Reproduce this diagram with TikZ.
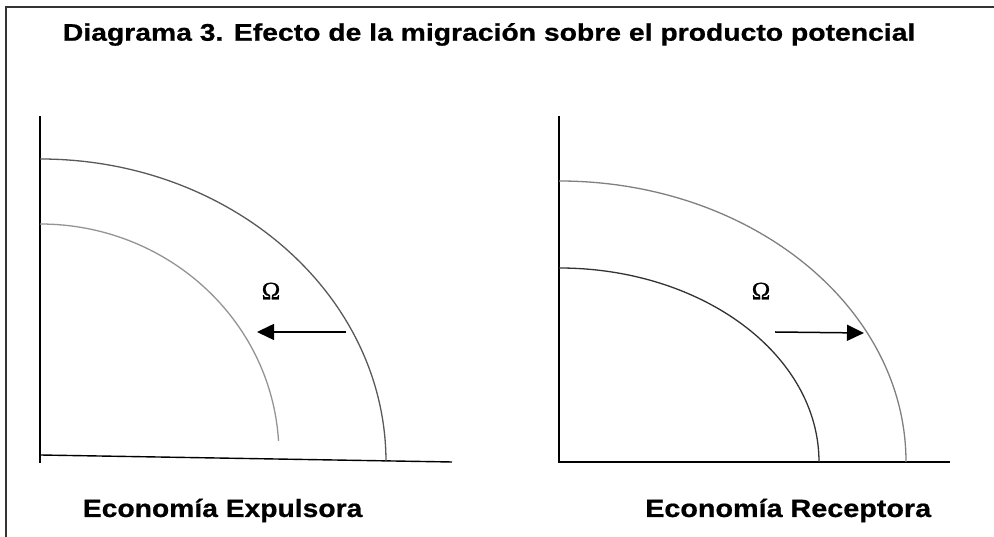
\documentclass[tikz,border=0pt]{standalone}
\usepackage{fontspec}
\setmainfont{Liberation Sans}[BoldFeatures={FakeBold=0.6}]
\newfontfamily\omegafont{Liberation Serif}[FakeBold=0.8]
\usetikzlibrary{arrows.meta}
\begin{document}
\begin{tikzpicture}[x=1pt,y=1pt,
  frameline/.style={draw=black!80,line width=1.3pt},
  axisline/.style={draw=black,line width=1.4pt},
  darkcurve/.style={draw=black!65,line width=1.3pt},
  lightcurve/.style={draw=black!42,line width=1.3pt},
  darkestcurve/.style={draw=black!80,line width=1.3pt},
  shiftarrow/.style={draw=black,line width=1.5pt,-{Triangle[length=17pt,width=16pt]}},
  titletext/.style={inner sep=0pt,anchor=base west,font=\fontsize{24}{28}\selectfont\bfseries},
  labeltext/.style={inner sep=0pt,anchor=base west,font=\fontsize{25}{28}\selectfont\bfseries},
  omegatext/.style={inner sep=0pt,font=\fontsize{25}{28}\selectfont\omegafont}]
\useasboundingbox (0,0) rectangle (994,537);
\fill[white] (0,0) rectangle (994,537);
% frame
\coordinate (fbl) at (6,0);
\coordinate (ftl) at (6,530);
\coordinate (ftr) at (994,530);
\draw[frameline] (fbl) -- (ftl) -- (ftr);
% title
\node[titletext] (title) at (62.7,496.3) {\scalebox{1.18}[1]{Diagrama 3. Efecto de la migración sobre el producto potencial}};
% left panel
\coordinate (Ltop) at (40,421);
\coordinate (Lorig) at (40,74);
\coordinate (Lxs) at (40,82);
\coordinate (Lxe) at (452,75);
\draw[axisline] (Ltop) -- (Lorig);
\draw[axisline] (Lxs) -- (Lxe);
\coordinate (Louter) at (40,378);
\coordinate (Linner) at (40,313);
\draw[darkcurve] (Louter) arc[start angle=90,end angle=0,x radius=346,y radius=303];
\draw[lightcurve] (Linner) arc[start angle=90,end angle=3.5,x radius=239,y radius=231];
\coordinate (La1) at (346,205);
\coordinate (La2) at (257,205);
\draw[shiftarrow] (La1) -- (La2);
\node[omegatext] (Lomega) at (271,246) {Ω};
\node[labeltext] (Llabel) at (82.7,20) {\scalebox{1.13}[1]{Economía Expulsora}};
% right panel
\coordinate (Rtop) at (559,421);
\coordinate (Rorig) at (559,75);
\coordinate (Rxe) at (950,75);
\draw[axisline] (Rtop) -- (Rorig) -- (Rxe);
\coordinate (Router) at (559,356);
\coordinate (Rinner) at (559,269);
\draw[lightcurve,draw=black!50] (Router) arc[start angle=90,end angle=0,x radius=347,y radius=281];
\draw[darkestcurve] (Rinner) arc[start angle=90,end angle=0,x radius=260,y radius=194];
\coordinate (Ra1) at (775,205);
\coordinate (Ra2) at (864,204);
\draw[shiftarrow] (Ra1) -- (Ra2);
\node[omegatext] (Romega) at (761,246) {Ω};
\node[labeltext] (Rlabel) at (645,20) {\scalebox{1.15}[1]{Economía Receptora}};
\end{tikzpicture}
\end{document}
